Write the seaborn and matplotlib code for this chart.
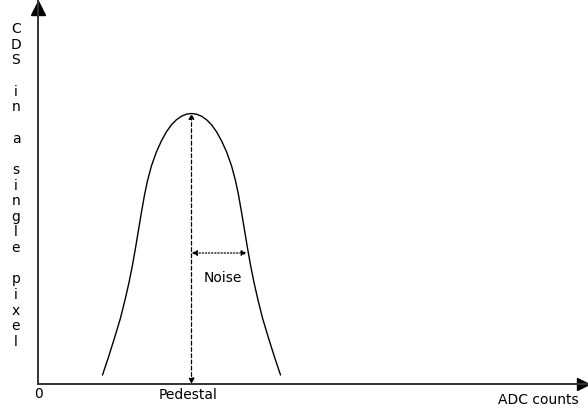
import numpy as np
import pandas as pd
import seaborn as sns
import matplotlib
matplotlib.use("Agg")
import matplotlib.pyplot as plt

# pedestal peak (ADC counts vs CDS value, arbitrary units)
adc = [64.5, 70.5, 76.5, 82.5, 87, 91, 94.5, 97.5, 100.5, 103.5, 106.5, 109.5,
       113.5, 118.5, 123.5, 128.5, 133.5, 138.5, 143.5, 148.5, 153.5,
       158.5, 163.5, 168.5, 173.5, 178.5, 183.5, 188.5, 193.5, 197.5, 200.5,
       203.5, 206.5, 209.5, 212.5, 216, 220, 224.5, 230.5, 236.5, 242.5]
cds = [9, 27, 46, 66, 84, 101.5, 119, 136, 154, 172, 189, 203.3,
       218.3, 232.3, 243.3, 252.3, 259.3, 264.3, 267.8, 269.8, 270.5,
       269.8, 267.8, 264.3, 259.3, 252.3, 243.3, 232.3, 218.3, 203.3, 189,
       172, 154, 136, 119, 101.5, 84, 66, 46, 27, 9]
pedestal = 153.5
peak = 270.5
noise_level = 131
noise_edge = 209

y_label = "CDS in a single pixel"

df = pd.DataFrame({"adc": adc, "cds": cds})

sns.set_style("white")
plt.rcParams["font.family"] = ["DejaVu Sans"]
plt.rcParams["text.color"] = "black"

fig = plt.figure(figsize=(5.88, 4.15), dpi=100)
ax = fig.add_axes([38 / 588, 31 / 415, 550 / 588, 384 / 415])
ax.patch.set_alpha(0)

sns.lineplot(data=df, x="adc", y="cds", ax=ax, color="black", lw=1.0, sort=False)

ax.set_xlim(0, 550)
ax.set_ylim(0, 384)
ax.set_xticks([])
ax.set_yticks([])
ax.set_xlabel("")
ax.set_ylabel("")
for s in ["top", "right"]:
    ax.spines[s].set_visible(False)
for s in ["left", "bottom"]:
    ax.spines[s].set_color("#333333")
    ax.spines[s].set_linewidth(1.4)

# axis arrowheads
ax.plot(0, 376.5, marker="^", color="black", ms=10, clip_on=False)
ax.plot(545, 0, marker=">", color="black", ms=8, clip_on=False)

# pedestal arrow (dashed) and noise arrow (dotted)
ax.annotate("", xy=(pedestal, peak), xytext=(pedestal, 0),
            arrowprops=dict(arrowstyle="<|-|>", ls=(0, (3, 2)), lw=0.9,
                            color="black", mutation_scale=8,
                            shrinkA=0, shrinkB=0))
ax.annotate("", xy=(noise_edge, noise_level), xytext=(pedestal, noise_level),
            arrowprops=dict(arrowstyle="<|-|>", ls=(0, (1, 1.5)), lw=0.9,
                            color="black", mutation_scale=8,
                            shrinkA=0, shrinkB=0))

ax.text(185, 106, "Noise", ha="center", va="center", fontsize=10)
ax.text(0.5, -3, "0", ha="center", va="top", fontsize=10, clip_on=False)
ax.text(150, -4, "Pedestal", ha="center", va="top", fontsize=10, clip_on=False)
ax.text(500, -9, "ADC counts", ha="center", va="top", fontsize=10, clip_on=False)

stacked = "\n".join(" " if c == " " else c for c in y_label)
ax.text(-22, 362, stacked, ha="center", va="top", fontsize=10,
        linespacing=1.15, clip_on=False)

fig.savefig("out.png", dpi=100)
